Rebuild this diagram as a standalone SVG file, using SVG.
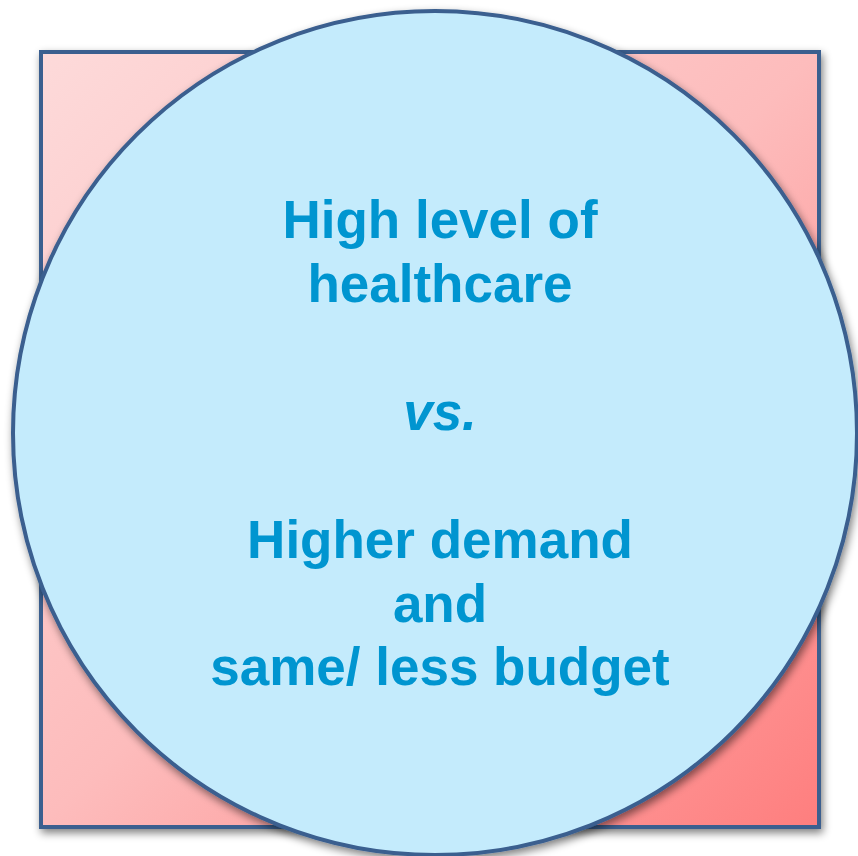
<svg xmlns="http://www.w3.org/2000/svg" width="858" height="856" viewBox="0 0 858 856">
<defs>
<linearGradient id="sq" x1="0" y1="0" x2="1" y2="1">
<stop offset="0" stop-color="#fddada"/>
<stop offset="0.5" stop-color="#fdbcbc"/>
<stop offset="1" stop-color="#fe7e7e"/>
</linearGradient>
<filter id="sh" x="-10%" y="-10%" width="120%" height="120%">
<feGaussianBlur in="SourceAlpha" stdDeviation="4"/>
<feOffset dx="2" dy="4" result="b"/>
<feComponentTransfer><feFuncA type="linear" slope="0.5"/></feComponentTransfer>
<feMerge><feMergeNode/><feMergeNode in="SourceGraphic"/></feMerge>
</filter>
<style>
.t{font-family:"Liberation Sans",Arial,sans-serif;font-weight:bold;font-size:53px;fill:#0095d0;text-anchor:middle}
</style>
</defs>
<rect width="858" height="856" fill="#ffffff"/>
<g id="square" filter="url(#sh)">
<rect x="41" y="52" width="778" height="775" fill="url(#sq)" stroke="#3a5f8f" stroke-width="4"/>
</g>
<g id="circle" filter="url(#sh)">
<circle cx="435" cy="433" r="422" fill="#c4ebfc" stroke="#3a5f8f" stroke-width="4"/>
</g>
<g id="label">
<text class="t" x="440" y="238">High level of</text>
<text class="t" x="440" y="302">healthcare</text>
<text class="t" x="440" y="430" font-style="italic">vs.</text>
<text class="t" x="440" y="558">Higher demand</text>
<text class="t" x="440" y="622">and</text>
<text class="t" x="440" y="685">same/ less budget</text>
</g>
</svg>
